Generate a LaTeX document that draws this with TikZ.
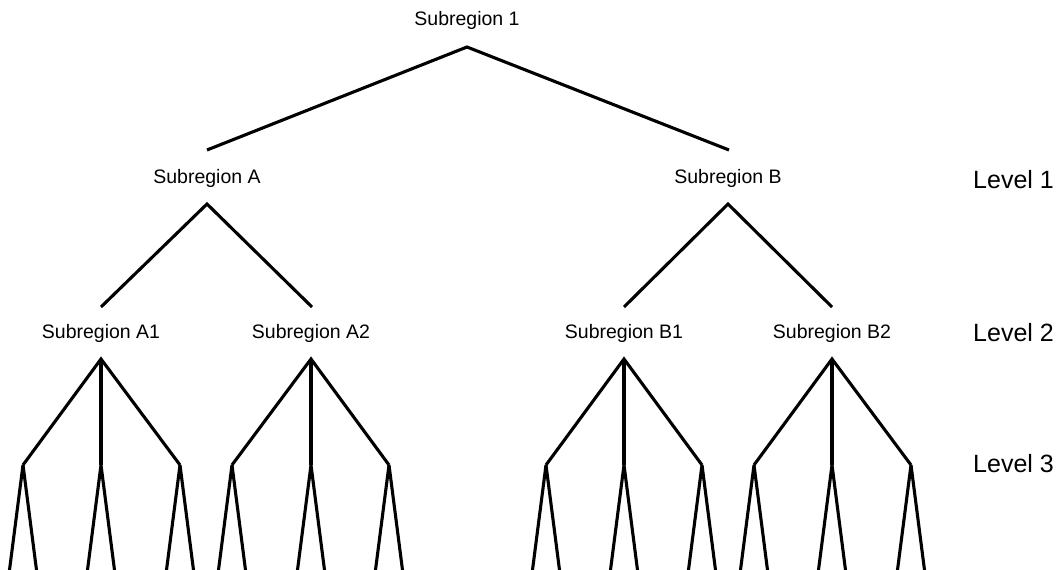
\documentclass[tikz,border=0pt]{standalone}
\usepackage{fontspec}
\setmainfont{Liberation Sans}
\begin{document}
\begin{tikzpicture}[x=1pt,y=-1pt,
  lbl/.style={inner sep=0pt,font=\fontsize{19.5}{22}\selectfont},
  lvl/.style={inner sep=0pt,anchor=west,font=\fontsize{25}{28}\selectfont},
  edge/.style={line width=3.1pt,line join=miter},
  leafedge/.style={line width=3.1pt,line join=bevel}]
\useasboundingbox[fill=white] (0,0) rectangle (1061,570);
% level labels
\node[lvl] (l1) at (973,180) {Level 1};
\node[lvl] (l2) at (973,333) {Level 2};
\node[lvl] (l3) at (973,464) {Level 3};
% root
\node[lbl] (r) at (467,20) {Subregion 1};
\coordinate (ra) at (467,47);
\coordinate (aTop) at (207,150);
\coordinate (bTop) at (729,150);
\draw[edge] (aTop) -- (ra) -- (bTop);
% level 1
\node[lbl] (A) at (207,178) {Subregion A};
\node[lbl] (B) at (728,178) {Subregion B};
\coordinate (Aa) at (207,204);
\coordinate (Ba) at (728,204);
\coordinate (A1t) at (101,307);
\coordinate (A2t) at (312,307);
\coordinate (B1t) at (624,307);
\coordinate (B2t) at (832,307);
\draw[edge] (A1t) -- (Aa) -- (A2t);
\draw[edge] (B1t) -- (Ba) -- (B2t);
% level 2
\node[lbl] (A1) at (101,333) {Subregion A1};
\node[lbl] (A2) at (311,333) {Subregion A2};
\node[lbl] (B1) at (624,333) {Subregion B1};
\node[lbl] (B2) at (832,333) {Subregion B2};
\foreach \n/\x/\a/\b/\c in {A1/101/23/101/180, A2/311/232/311/389, B1/624/546/624/702, B2/832/754/832/911}{
  \coordinate (\n a) at (\x,359);
  \coordinate (\n l) at (\a,465);
  \coordinate (\n m) at (\b,465);
  \coordinate (\n r) at (\c,465);
  \draw[edge] (\n l) -- (\n a) -- (\n r);
  \draw[edge] (\n a) -- (\n m);
  \foreach \k/\xx in {l/\a,m/\b,r/\c}{
    \coordinate (\n\k L) at (\xx-13.5,570);
    \coordinate (\n\k R) at (\xx+13.5,570);
    \draw[leafedge] (\n\k L) -- (\n\k) -- (\n\k R);
  }
}
\end{tikzpicture}
\end{document}
